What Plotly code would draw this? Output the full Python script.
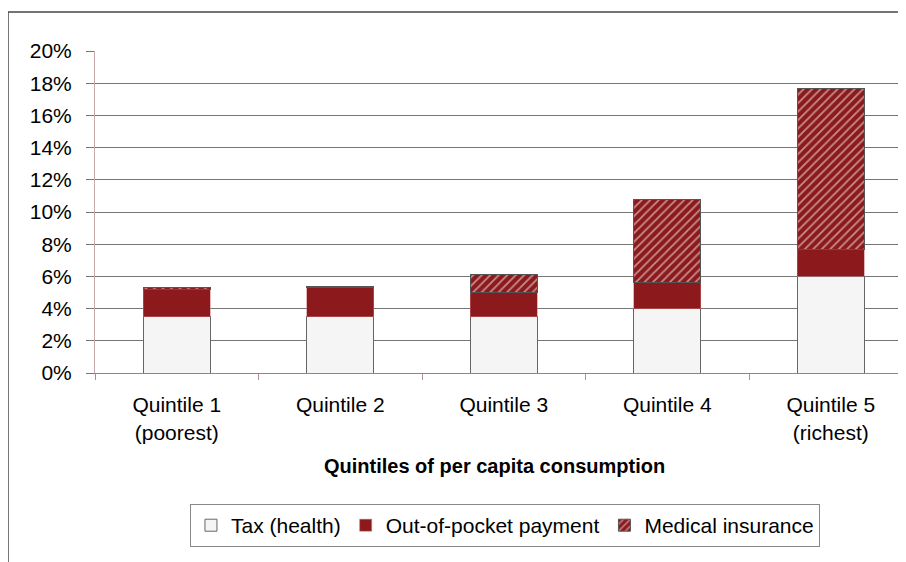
import plotly.graph_objects as go

categories = ["Quintile 1<br>(poorest)", "Quintile 2", "Quintile 3", "Quintile 4", "Quintile 5<br>(richest)"]
tax_health = [0.035, 0.035, 0.035, 0.040, 0.060]
out_of_pocket = [0.017, 0.018, 0.015, 0.016, 0.0165]
medical_insurance = [0.001, 0.001, 0.011, 0.052, 0.100]
y_ticks = [0, 0.02, 0.04, 0.06, 0.08, 0.10, 0.12, 0.14, 0.16, 0.18, 0.20]

FONT = "Liberation Sans, Arial, sans-serif"
RED = "#8c1a1c"

fig = go.Figure()
fig.add_trace(go.Bar(
    x=categories, y=tax_health, name="Tax (health)",
    marker=dict(color="#f5f5f5", line=dict(color="#666666", width=1)),
    width=0.41,
))
fig.add_trace(go.Bar(
    x=categories, y=out_of_pocket, name="Out-of-pocket payment",
    marker=dict(color=RED, line=dict(color="#c87070", width=0.5)),
    width=0.41,
))
fig.add_trace(go.Bar(
    x=categories, y=medical_insurance, name="Medical insurance",
    marker=dict(color=RED, line=dict(color="#555555", width=1),
                pattern=dict(shape="/", fgcolor="#ffffff", bgcolor=RED, size=6, solidity=0.3)),
    width=0.41,
))

fig.update_layout(
    barmode="stack",
    width=898, height=554,
    margin=dict(l=87, r=0, t=43, b=189),
    paper_bgcolor="white", plot_bgcolor="white",
    font=dict(family=FONT, size=21, color="#000000"),
    showlegend=True,
    legend=dict(
        orientation="h", x=0.5055, xanchor="center", y=-0.407, yanchor="top",
        bordercolor="#888888", borderwidth=1,
        font=dict(family=FONT, size=21, color="#000000"),
        traceorder="normal", itemwidth=30,
    ),
    xaxis=dict(
        range=[-0.5, 4.46], showline=True, linecolor="#888888", linewidth=1,
        tickson="boundaries", ticks="outside", ticklen=6, tickcolor="#b09090",
        ticklabelstandoff=13, showgrid=False,
        tickfont=dict(family=FONT, size=21, color="#000000"),
    ),
    yaxis=dict(
        range=[0, 0.2], tickvals=y_ticks, tickformat=".0%",
        showgrid=True, gridcolor="#777777", gridwidth=1,
        showline=True, linecolor="#c8a8a8", linewidth=1,
        ticks="outside", ticklen=8, tickcolor="#777777",
        ticklabelstandoff=10, zeroline=False,
        tickfont=dict(family=FONT, size=21, color="#000000"),
    ),
    annotations=[dict(
        text="<b>Quintiles of per capita consumption</b>",
        x=0.493, y=-0.289, xref="paper", yref="paper",
        xanchor="center", yanchor="middle", showarrow=False,
        font=dict(family=FONT, size=20, color="#000000"),
    )],
    shapes=[
        dict(type="line", xref="paper", yref="paper", x0=-0.1073, x1=-0.1073, y0=1.121, y1=-0.6,
             line=dict(color="#444444", width=1.5)),
        dict(type="line", xref="paper", yref="paper", x0=-0.1073, x1=1.05, y0=1.121, y1=1.121,
             line=dict(color="#444444", width=1.5)),
    ],
)

fig.write_html("out.html")
